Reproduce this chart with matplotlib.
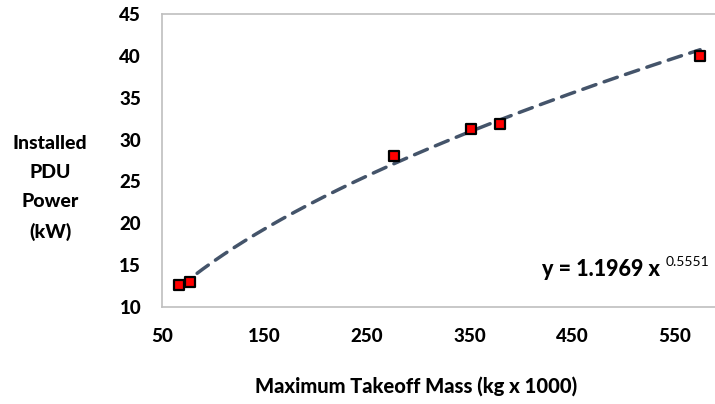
import numpy as np
import matplotlib.pyplot as plt

# Installed PDU power against aircraft maximum takeoff mass
mass = [67, 77, 276, 351, 380, 575]          # kg x 1000
power = [12.6, 13.0, 28.0, 31.3, 31.9, 40.0]  # kW

# power-law trend line coefficients
coef_a = 1.1969
coef_b = 0.5551

x_ticks = [50, 150, 250, 350, 450, 550]
y_ticks = [10, 15, 20, 25, 30, 35, 40, 45]

plt.rcParams['font.family'] = ['Lato', 'DejaVu Sans']

fig = plt.figure(figsize=(7.15, 4.04), dpi=100)
ax = fig.add_axes([162 / 715, 1 - 307 / 404, 1 - 162 / 715, (307 - 14) / 404])

# trend line over the data range
xs = np.linspace(min(mass), max(mass), 200)
ax.plot(xs, coef_a * xs ** coef_b, color='#44546A', lw=2.5,
        dashes=(4.0, 2.5), dash_capstyle='round', zorder=2)

ax.scatter(mass, power, marker='s', s=46, color='#FF0000',
           edgecolors='black', linewidths=1.6, zorder=3)

ax.set_xlim(50, 50 + (715 - 162) / 1.025)
ax.set_ylim(10, 45)
ax.set_xticks(x_ticks)
ax.set_yticks(y_ticks)
ax.tick_params(length=0, labelsize=13.5, colors='black')
ax.tick_params(axis='x', pad=15)
ax.tick_params(axis='y', pad=15)
for lab in ax.get_xticklabels() + ax.get_yticklabels():
    lab.set_fontweight('black')

for side in ['left', 'top', 'bottom']:
    ax.spines[side].set_color('#BFBFBF')
    ax.spines[side].set_linewidth(1.2)
ax.spines['right'].set_visible(False)

fig.text(50 / 715, 1 - 188 / 404, 'Installed\nPDU\nPower\n(kW)',
         ha='center', va='center', fontsize=14, fontweight='black',
         linespacing=1.85)
fig.text(416 / 715, 1 - 386 / 404, 'Maximum Takeoff Mass (kg x 1000)',
         ha='center', va='center', fontsize=14.5, fontweight='black')

# fitted equation
fig.text(660 / 715, 1 - 270 / 404, 'y = %.4f x' % coef_a,
         ha='right', va='center', fontsize=15.5, fontweight='black')
fig.text(666 / 715, 1 - 262 / 404, '%.4f' % coef_b,
         ha='left', va='center', fontsize=10, fontweight='normal')

fig.savefig('out.png', dpi=100)
